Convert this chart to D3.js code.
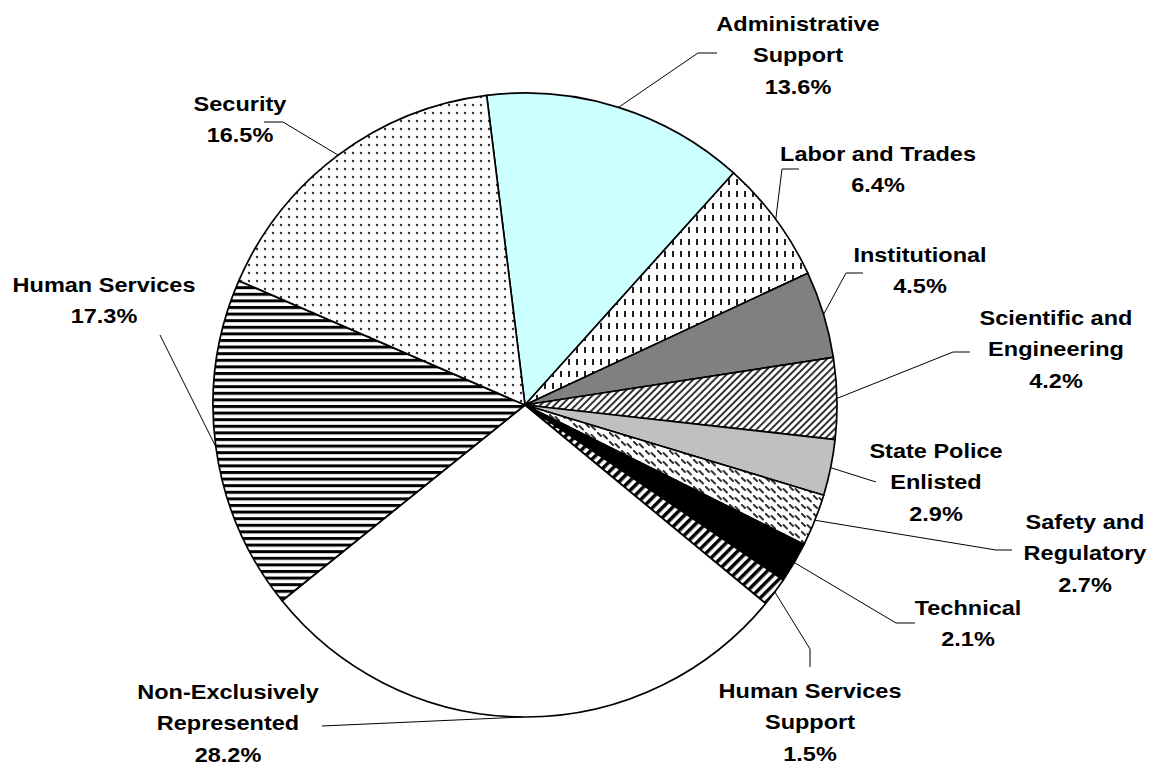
<!DOCTYPE html>
<html>
<head>
<meta charset="utf-8">
<script src="https://cdn.jsdelivr.net/npm/d3@7"></script>
<style>
  body { margin: 0; background: #fff; }
  .lbl text { font-family: "Liberation Sans", Arial, sans-serif; font-weight: bold; font-size: 21px; fill: #000; }
</style>
</head>
<body>
<svg id="chart" width="1159" height="768"></svg>
<script>
const categories = ["Administrative Support", "Labor and Trades", "Institutional", "Scientific and Engineering",
    "State Police Enlisted", "Safety and Regulatory", "Technical", "Human Services Support",
    "Non-Exclusively Represented", "Human Services", "Security"];
const labelLines = [["Administrative", "Support"], ["Labor and Trades"], ["Institutional"], ["Scientific and", "Engineering"],
    ["State Police", "Enlisted"], ["Safety and", "Regulatory"], ["Technical"], ["Human Services", "Support"],
    ["Non-Exclusively", "Represented"], ["Human Services"], ["Security"]];
const shares = [13.6, 6.4, 4.5, 4.2, 2.9, 2.7, 2.1, 1.5, 28.2, 17.3, 16.5];
const fills = ["#ccffff", "url(#vdash)", "#808080", "url(#diag)", "#c0c0c0", "url(#dashdiag)",
    "#000000", "url(#widediag)", "#ffffff", "url(#hstripe)", "url(#dots)"];

// label placement: text centre x, first baseline, leader bend points (label side)
const labelPos = [
    { x: 798, y: 31, leader: [[698, 53], [717, 53]] },
    { x: 878, y: 161, leader: [[782, 169], [799, 169]] },
    { x: 920, y: 262, leader: [[846, 273], [863, 273]] },
    { x: 1056, y: 325, leader: [[953, 352], [970, 352]] },
    { x: 936, y: 458, leader: [[876, 482]] },
    { x: 1085, y: 529, leader: [[996, 550], [1012, 550]] },
    { x: 968, y: 615, leader: [[896, 623], [915, 623]] },
    { x: 810, y: 698, leader: [[810, 649], [810, 667]] },
    { x: 228, y: 699, leader: [[322, 726]] },
    { x: 104, y: 292, leader: [[160, 335]] },
    { x: 240, y: 111, leader: [[283, 122], [264, 122]] }
];

const svg = d3.select("#chart");
const cx = 525, cy = 405, radius = 312;
const lineGap = 31.5;

// fill patterns
const defs = svg.append("defs");
const vdash = defs.append("pattern").attr("id", "vdash").attr("patternUnits", "userSpaceOnUse")
    .attr("width", 8).attr("height", 12);
vdash.append("rect").attr("width", 8).attr("height", 12).attr("fill", "#fff");
vdash.append("rect").attr("x", 3).attr("y", 2).attr("width", 2).attr("height", 6).attr("fill", "#222");

const diag = defs.append("pattern").attr("id", "diag").attr("patternUnits", "userSpaceOnUse")
    .attr("width", 5).attr("height", 5).attr("patternTransform", "rotate(45)");
diag.append("rect").attr("width", 5).attr("height", 5).attr("fill", "#fff");
diag.append("rect").attr("width", 2).attr("height", 5).attr("fill", "#333");

const dashdiag = defs.append("pattern").attr("id", "dashdiag").attr("patternUnits", "userSpaceOnUse")
    .attr("width", 12).attr("height", 9);
dashdiag.append("rect").attr("width", 12).attr("height", 9).attr("fill", "#fff");
dashdiag.append("path").attr("d", "M0.5,0.5L4,4M6.5,3L10,6.5")
    .attr("stroke", "#333").attr("stroke-width", 2).attr("stroke-linecap", "round");

const widediag = defs.append("pattern").attr("id", "widediag").attr("patternUnits", "userSpaceOnUse")
    .attr("width", 7).attr("height", 7).attr("patternTransform", "rotate(45)");
widediag.append("rect").attr("width", 7).attr("height", 7).attr("fill", "#fff");
widediag.append("rect").attr("width", 3.5).attr("height", 7).attr("fill", "#000");

const hstripe = defs.append("pattern").attr("id", "hstripe").attr("patternUnits", "userSpaceOnUse")
    .attr("width", 8).attr("height", 6.6);
hstripe.append("rect").attr("width", 8).attr("height", 6.6).attr("fill", "#fff");
hstripe.append("rect").attr("width", 8).attr("height", 3).attr("fill", "#000");

const dots = defs.append("pattern").attr("id", "dots").attr("patternUnits", "userSpaceOnUse")
    .attr("width", 8).attr("height", 8);
dots.append("rect").attr("width", 8).attr("height", 8).attr("fill", "#fff");
dots.append("circle").attr("cx", 4).attr("cy", 4).attr("r", 1.2).attr("fill", "#333");

// pie, first slice starts slightly left of 12 o'clock
const startAngle = -7.06 * Math.PI / 180;
const pie = d3.pie().sort(null).value(d => d)
    .startAngle(startAngle).endAngle(startAngle + 2 * Math.PI);
const arcs = pie(shares);
const arc = d3.arc().innerRadius(0).outerRadius(radius);
const edge = d3.arc().innerRadius(radius).outerRadius(radius);

const g = svg.append("g").attr("transform", `translate(${cx},${cy})`);
g.selectAll("path.slice").data(arcs).enter().append("path")
    .attr("class", "slice")
    .attr("d", arc)
    .attr("fill", (d, i) => fills[i])
    .attr("stroke", "#000")
    .attr("stroke-width", 1.7)
    .attr("stroke-linejoin", "round");

// leader lines
const line = d3.line();
svg.selectAll("path.leader").data(arcs).enter().append("path")
    .attr("class", "leader")
    .attr("d", (d, i) => {
        const p = edge.centroid(d);
        return line([[p[0] + cx, p[1] + cy]].concat(labelPos[i].leader));
    })
    .attr("fill", "none")
    .attr("stroke", "#000")
    .attr("stroke-width", 1);

// labels
const labels = svg.selectAll("g.lbl").data(arcs).enter().append("g")
    .attr("class", "lbl")
    .attr("transform", (d, i) => `translate(${labelPos[i].x},${labelPos[i].y}) scale(1.12,1)`);

labels.each(function(d, i) {
    const lines = labelLines[i].concat([d3.format(".1f")(shares[i]) + "%"]);
    d3.select(this).selectAll("text").data(lines).enter().append("text")
        .attr("text-anchor", "middle")
        .attr("y", (t, j) => j * lineGap)
        .text(t => t);
});
</script>
</body>
</html>
